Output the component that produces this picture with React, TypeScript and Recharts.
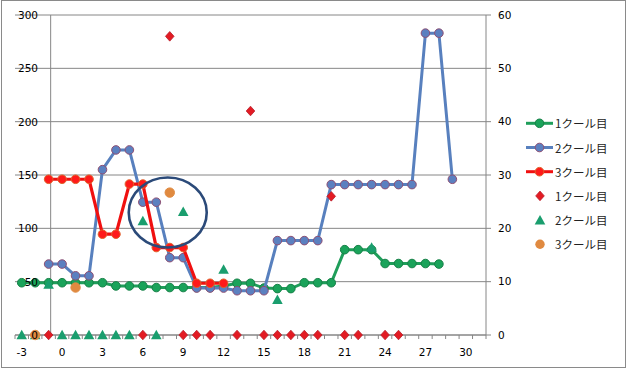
import React from "react"
import {
  CartesianGrid,
  ComposedChart,
  Legend,
  ReferenceDot,
  ReferenceLine,
  Scatter,
  XAxis,
  YAxis,
} from "recharts"

// categories (days) and the three line series, null = no point
const days = [-3, -2, -1, 0, 1, 2, 3, 4, 5, 6, 7, 8, 9, 10, 11, 12, 13, 14, 15, 16, 17, 18, 19, 20, 21, 22, 23, 24, 25, 26, 27, 28, 29, 30, 31]
const cour1 = [49, 49, 49, 49, 49, 49, 49, 46, 46, 46, 44.5, 44.5, 44.5, 44.5, 44.5, 46, 48.5, 48.5, 44, 43.5, 43.5, 49, 49, 49, 80, 80, 80, 67, 67, 67, 67, 66.5, null, null, null]
const cour2 = [null, null, 66.5, 66.5, 55.5, 55.5, 155, 173.5, 173.5, 124.5, 124.5, 72.5, 72.5, 44, 44, 44, 41.5, 41.5, 41.5, 88.5, 88.5, 88.5, 88.5, 141, 141, 141, 141, 141, 141, 141, 283, 283, 146, null, null]
const cour3 = [null, null, 146, 146, 146, 146, 94.5, 94.5, 141.5, 141.5, 82, 82, 82, 48.5, 48.5, 48.5, null, null, null, null, null, null, null, null, null, null, null, null, null, null, null, null, null, null, null]

// markers on the secondary axis
const dot1Days = [-1, 6, 8, 9, 10, 11, 13, 14, 15, 16, 17, 18, 19, 20, 21, 22, 24, 25]
const dot1Values = [0, 0, 56, 0, 0, 0, 0, 42, 0, 0, 0, 0, 0, 26, 0, 0, 0, 0]
const dot2Days = [-3, -2, -1, 0, 1, 2, 3, 4, 5, 6, 7, 9, 12, 16, 23]
const dot2Values = [0, 0, 9.5, 0, 0, 0, 0, 0, 0, 21.4, 0, 23.1, 12.3, 6.6, 16.4]
const dot3Days = [-2, 1, 8]
const dot3Values = [0, 8.9, 26.7]

const xLabels = [-3, 0, 3, 6, 9, 12, 15, 18, 21, 24, 27, 30]
const leftTicks = [0, 50, 100, 150, 200, 250, 300]
const rightTicks = [0, 10, 20, 30, 40, 50, 60]
const names = ["1クール目", "2クール目", "3クール目"]

const AXIS = "#868686"
const FONT = "'DejaVu Sans', Verdana, sans-serif"
const GREEN = "#1f9e5a"
const BLUE = "#5880be"
const RED = "#f01010"
const DIAMOND = "#e31b23"
const TRI = "#1a9e6e"
const ORANGE = "#e08a40"

const toPoints = (vals: (number | null)[]) =>
  days.map((d, i) => ({ x: d, y: vals[i] })).filter((p) => p.y != null)
const toDots = (xs: number[], ys: number[]) => xs.map((x, i) => ({ x, y: ys[i] }))

const line1 = toPoints(cour1)
const line2 = toPoints(cour2)
const line3 = toPoints(cour3)
const dots1 = toDots(dot1Days, dot1Values)
const dots2 = toDots(dot2Days, dot2Values)
const dots3 = toDots(dot3Days, dot3Values)

// tick marks sit between categories, labels on every third day
const xTicks = [...days.map((d) => d - 0.5), 31.5, ...xLabels].sort((a, b) => a - b)

const circle = (fill: string, stroke: string, r = 4.3) => (p: any) =>
  <circle cx={p.cx} cy={p.cy} r={r} fill={fill} stroke={stroke} strokeWidth={1} />
const diamond = (p: any) => (
  <path
    d={`M${p.cx},${p.cy - 4.8}L${p.cx + 4.3},${p.cy}L${p.cx},${p.cy + 4.8}L${p.cx - 4.3},${p.cy}Z`}
    fill={DIAMOND}
    stroke="#b8202c"
    strokeWidth={0.8}
  />
)
const triangle = (p: any) => (
  <path d={`M${p.cx},${p.cy - 5.2}L${p.cx + 5.3},${p.cy + 4.3}L${p.cx - 5.3},${p.cy + 4.3}Z`} fill={TRI} />
)

function XTick(props: any) {
  const { x, y, payload } = props
  const v = payload.value
  if (Number.isInteger(v)) {
    return (
      <text x={x} y={y + 17} textAnchor="middle" dominantBaseline="central" fontSize={10.5} fontFamily={FONT} fill="#000">
        {v}
      </text>
    )
  }
  return <line x1={x} x2={x} y1={y} y2={y + 4} stroke={AXIS} />
}

function LeftTick(props: any) {
  const { x, y, payload } = props
  return (
    <text x={x + 23} y={y} textAnchor="end" dominantBaseline="central" fontSize={10.5} fontFamily={FONT} fill="#000">
      {payload.value}
    </text>
  )
}

function LegendBox() {
  const rows = [0, 1, 2, 3, 4, 5].map((i) => 13.3 + i * 24.2)
  const text = (y: number, label: string) => (
    <text x={35} y={y} dominantBaseline="central" fontSize={11.5} fontFamily="'Noto Sans CJK JP', sans-serif" fill="#222">
      {label}
    </text>
  )
  return (
    <svg width={100} height={150}>
      <line x1={6} x2={33} y1={rows[0]} y2={rows[0]} stroke={GREEN} strokeWidth={3} />
      <circle cx={19.5} cy={rows[0]} r={4.3} fill="#1aa35a" stroke="#168047" />
      {text(rows[0], names[0])}
      <line x1={6} x2={33} y1={rows[1]} y2={rows[1]} stroke={BLUE} strokeWidth={3} />
      <circle cx={19.5} cy={rows[1]} r={4.3} fill="#5b80c0" stroke="#8e4f73" />
      {text(rows[1], names[1])}
      <line x1={6} x2={33} y1={rows[2]} y2={rows[2]} stroke={RED} strokeWidth={3} />
      <circle cx={19.5} cy={rows[2]} r={4.3} fill="#ff1a1a" stroke="#e0622a" />
      {text(rows[2], names[2])}
      {diamond({ cx: 20, cy: rows[3] })}
      {text(rows[3], names[0])}
      {triangle({ cx: 20, cy: rows[4] })}
      {text(rows[4], names[1])}
      <circle cx={20} cy={rows[5]} r={4.7} fill={ORANGE} />
      {text(rows[5], names[2])}
    </svg>
  )
}

export default function App() {
  return (
    <div style={{ position: "fixed", left: 0, top: 0, width: 626, height: 369, background: "#fff" }}>
      <div
        style={{ position: "absolute", left: 1, top: 0, width: 623, height: 366, border: "1px solid #8a8a8a" }}
      />
      <div style={{ position: "absolute", left: 0, top: 0 }}>
        <ComposedChart width={626} height={369} margin={{ top: 15, right: 0, bottom: 0, left: 0 }}>
          <CartesianGrid yAxisId="left" vertical={false} stroke={AXIS} />
          <XAxis
            type="number"
            dataKey="x"
            domain={[-3.5, 31.5]}
            ticks={xTicks}
            interval={0}
            height={34}
            tickSize={0}
            tickMargin={0}
            tickLine={false}
            axisLine={{ stroke: AXIS }}
            tick={<XTick />}
          />
          <YAxis
            yAxisId="left"
            type="number"
            dataKey="y"
            domain={[0, 300]}
            ticks={leftTicks}
            width={15}
            tickSize={0}
            tickMargin={0}
            axisLine={false}
            tickLine={false}
            tick={<LeftTick />}
          />
          <YAxis
            yAxisId="right"
            orientation="right"
            type="number"
            dataKey="y"
            domain={[0, 60]}
            ticks={rightTicks}
            width={140}
            tickSize={5}
            tickMargin={7}
            axisLine={{ stroke: AXIS }}
            tickLine={{ stroke: AXIS }}
            tick={{ fill: "#000", fontSize: 10.5, fontFamily: FONT }}
          />
          <ReferenceLine yAxisId="left" x={-0.85} stroke={AXIS} />
          <Scatter
            yAxisId="left"
            name={names[0]}
            data={line1}
            dataKey="y"
            line={{ stroke: GREEN, strokeWidth: 3 }}
            shape={circle("#1aa35a", "#168047")}
            isAnimationActive={false}
          />
          <Scatter
            yAxisId="left"
            name={names[1]}
            data={line2}
            dataKey="y"
            line={{ stroke: BLUE, strokeWidth: 3 }}
            shape={circle("#5b80c0", "#8e4f73")}
            isAnimationActive={false}
          />
          <Scatter
            yAxisId="left"
            name={names[2]}
            data={line3}
            dataKey="y"
            line={{ stroke: RED, strokeWidth: 3.2 }}
            shape={circle("#ff1a1a", "#e0622a")}
            isAnimationActive={false}
          />
          <Scatter yAxisId="right" name={names[0]} data={dots1} dataKey="y" shape={diamond} isAnimationActive={false} />
          <Scatter yAxisId="right" name={names[1]} data={dots2} dataKey="y" shape={triangle} isAnimationActive={false} />
          <Scatter yAxisId="right" name={names[2]} data={dots3} dataKey="y" shape={circle(ORANGE, ORANGE, 4.7)} isAnimationActive={false} />
          <ReferenceDot
            yAxisId="left"
            x={7.85}
            y={114.8}
            ifOverflow="visible"
            shape={(p: any) => <ellipse cx={p.cx} cy={p.cy} rx={39} ry={35} fill="none" stroke="#2b4a79" strokeWidth={2.6} />}
          />
          <Legend
            layout="horizontal"
            verticalAlign="middle"
            align="center"
            wrapperStyle={{ left: 520, top: 110, width: 100, height: 150 }}
            content={() => <LegendBox />}
          />
        </ComposedChart>
      </div>
    </div>
  )
}
